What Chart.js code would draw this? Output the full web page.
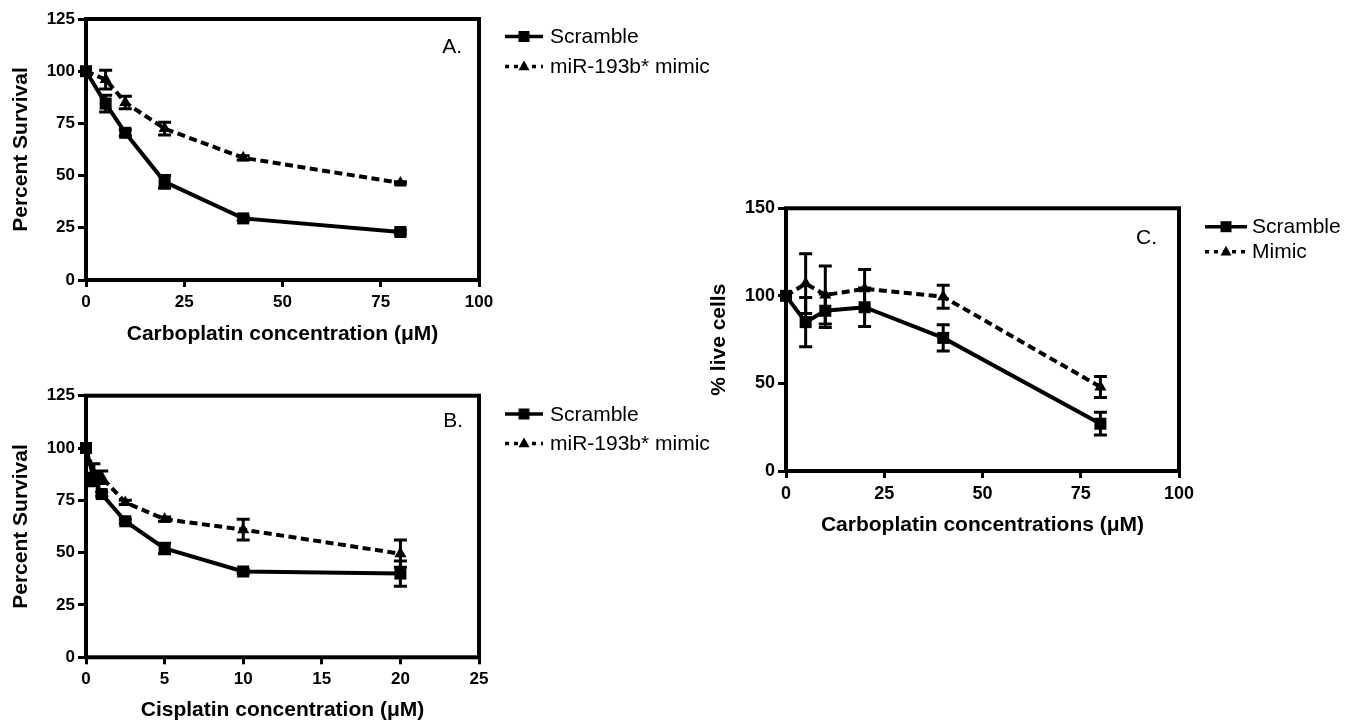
<!DOCTYPE html>
<html>
<head>
<meta charset="utf-8">
<script src="https://cdn.jsdelivr.net/npm/chart.js@4.4.1/dist/chart.umd.min.js"></script>
<style>
  body { margin: 0; background: #fff; width: 1356px; height: 726px; overflow: hidden; position: relative; }
  canvas { position: absolute; }
</style>
</head>
<body>
<canvas id="chartA" width="740" height="350" style="left:0;top:0"></canvas>
<canvas id="chartB" width="740" height="356" style="left:0;top:370px"></canvas>
<canvas id="chartC" width="656" height="380" style="left:700px;top:170px"></canvas>
<script>
// A. carboplatin, percent survival
const carboDose = [0, 5, 10, 20, 40, 80];
const carboScramble = [100, 84.5, 70.5, 47, 29.5, 23];
const carboScrambleErr = [0, 4, 1.5, 3, 1, 1];
const carboMimic = [100, 96, 85, 72.5, 58.5, 46.5];
const carboMimicErr = [0, 4.5, 3, 3, 1, 0.5];

// B. cisplatin, percent survival
const cisDose = [0, 0.5, 1, 2.5, 5, 10, 20];
const cisScramble = [100, 85, 78, 65, 52, 41, 40];
const cisScrambleErr = [0, 3, 1, 1, 2.5, 1, 6];
const cisMimic = [100, 88, 86, 74, 66, 61, 49.5];
const cisMimicErr = [0, 4.5, 3, 1, 1, 5, 6.5];

// C. carboplatin, % live cells
const liveDose = [0, 5, 10, 20, 40, 80];
const liveScramble = [100, 85, 91.5, 93.5, 76, 27];
const liveScrambleErr = [0, 14, 9.5, 11, 7.5, 6.5];
const liveMimic = [100, 107, 100.5, 104, 99.5, 48];
const liveMimicErr = [0, 17, 16.5, 11, 6.5, 6];

// tick labels
const carboTicks = [0, 25, 50, 75, 100];
const cisTicks = [0, 5, 10, 15, 20, 25];
const survivalTicks = [0, 25, 50, 75, 100, 125];
const liveTicks = [0, 50, 100, 150];

Chart.defaults.font.family = "'Liberation Sans', Arial, sans-serif";
Chart.defaults.color = '#000';

function drawMarker(c, style, x, y, r) {
  c.beginPath();
  if (style === 'rect') {
    c.rect(x - r, y - r, 2 * r, 2 * r);
  } else {
    c.moveTo(x, y - r * 1.1);
    c.lineTo(x + r, y + r * 0.7);
    c.lineTo(x - r, y + r * 0.7);
    c.closePath();
  }
  c.fill();
}

// box round the plot area
const frame = {
  id: 'frame',
  beforeDatasetsDraw(chart) {
    const a = chart.chartArea, c = chart.ctx;
    c.save();
    c.strokeStyle = '#000';
    c.lineWidth = 4;
    c.strokeRect(a.left, a.top, a.right - a.left, a.bottom - a.top);
    c.restore();
  }
};

// SEM bars
const errorBars = {
  id: 'errorBars',
  afterDatasetsDraw(chart) {
    const c = chart.ctx, xs = chart.scales.x, ys = chart.scales.y;
    const cap = 6.5;
    c.save();
    c.strokeStyle = '#000';
    c.lineWidth = 3;
    chart.data.datasets.forEach(ds => {
      ds.data.forEach((p, j) => {
        const e = ds.errors[j];
        if (!e) return;
        const x = xs.getPixelForValue(p.x);
        const y1 = ys.getPixelForValue(p.y + e);
        const y2 = ys.getPixelForValue(p.y - e);
        c.beginPath();
        c.moveTo(x, y1); c.lineTo(x, y2);
        c.moveTo(x - cap, y1); c.lineTo(x + cap, y1);
        c.moveTo(x - cap, y2); c.lineTo(x + cap, y2);
        c.stroke();
      });
    });
    c.restore();
  }
};

// legend at the right of the frame + panel letter
const sideLegend = {
  id: 'sideLegend',
  afterDraw(chart, args, opts) {
    const c = chart.ctx, a = chart.chartArea;
    c.save();
    c.fillStyle = '#000';
    c.strokeStyle = '#000';
    c.font = '21px ' + Chart.defaults.font.family;
    c.textBaseline = 'middle';
    chart.data.datasets.forEach((ds, i) => {
      const y = a.top + opts.top + i * opts.gap;
      const x0 = a.right + 26, x1 = x0 + opts.len;
      c.lineWidth = 3.5;
      c.setLineDash(ds.borderDash.length ? [4, 5] : []);
      c.beginPath();
      c.moveTo(x0, y); c.lineTo(x1, y);
      c.stroke();
      c.setLineDash([]);
      drawMarker(c, ds.pointStyle, (x0 + x1) / 2, y, 5.5);
      c.textAlign = 'left';
      c.fillText(ds.label, a.right + opts.textX, y + 1);
    });
    c.textAlign = 'right';
    c.fillText(opts.letter, a.right - opts.letterDx, a.top + opts.letterDy);
    c.restore();
  }
};

function panel(id, cfg) {
  let ctx = document.getElementById(id).getContext('2d');
  const W = ctx.canvas.width, H = ctx.canvas.height;
  const tickFont = { size: cfg.tickSize, weight: 'bold' };
  const titleFont = { size: 21, weight: 'bold' };
  const line = {
    showLine: true,
    tension: 0,
    borderColor: '#000',
    backgroundColor: '#000',
    borderWidth: 4,
    pointBorderWidth: 0,
    clip: false
  };
  return new Chart(ctx, {
    type: 'scatter',
    data: {
      datasets: [
        Object.assign({
          label: 'Scramble',
          data: cfg.dose.map((d, i) => ({ x: d, y: cfg.scramble[i] })),
          errors: cfg.scrambleErr,
          pointStyle: 'rect',
          pointRadius: 8.5,
          borderDash: []
        }, line),
        Object.assign({
          label: cfg.mimicLabel,
          data: cfg.dose.map((d, i) => ({ x: d, y: cfg.mimic[i] })),
          errors: cfg.mimicErr,
          pointStyle: 'triangle',
          pointRadius: 7,
          borderDash: [8, 4.5]
        }, line)
      ]
    },
    plugins: [frame, errorBars, sideLegend],
    options: {
      responsive: false,
      animation: false,
      events: [],
      layout: {
        padding: { left: 0, top: cfg.area.top, right: W - cfg.area.right, bottom: 0 }
      },
      plugins: {
        legend: { display: false },
        tooltip: { enabled: false },
        sideLegend: cfg.legend
      },
      scales: {
        x: {
          type: 'linear',
          min: cfg.xTicks[0],
          max: cfg.xTicks[cfg.xTicks.length - 1],
          afterBuildTicks: s => { s.ticks = cfg.xTicks.map(v => ({ value: v })); },
          afterFit: s => { s.height = H - cfg.area.bottom; },
          border: { display: false },
          grid: { drawOnChartArea: false, drawTicks: true, tickLength: 7, tickWidth: 3, tickColor: '#000' },
          ticks: { font: tickFont, padding: 5, maxRotation: 0 },
          title: { display: true, text: cfg.xTitle, font: titleFont, padding: { top: 0, bottom: cfg.xTitlePad } }
        },
        y: {
          type: 'linear',
          min: cfg.yTicks[0],
          max: cfg.yTicks[cfg.yTicks.length - 1],
          afterBuildTicks: s => { s.ticks = cfg.yTicks.map(v => ({ value: v })); },
          afterFit: s => { s.width = cfg.area.left; },
          border: { display: false },
          grid: { drawOnChartArea: false, drawTicks: true, tickLength: 8, tickWidth: 3, tickColor: '#000' },
          ticks: { font: tickFont, padding: 3 },
          title: { display: true, text: cfg.yTitle, font: titleFont, padding: { top: cfg.yTitlePad, bottom: 0 } }
        }
      }
    }
  });
}

panel('chartA', {
  dose: carboDose, scramble: carboScramble, scrambleErr: carboScrambleErr,
  mimic: carboMimic, mimicErr: carboMimicErr, mimicLabel: 'miR-193b* mimic',
  xTicks: carboTicks, yTicks: survivalTicks, tickSize: 17,
  xTitle: 'Carboplatin concentration (\u03bcM)', yTitle: 'Percent Survival',
  area: { left: 86, top: 19, right: 479, bottom: 280 },
  xTitlePad: 3, yTitlePad: 9,
  legend: { top: 17.5, gap: 30, len: 38, textX: 71, letter: 'A.', letterDx: 17, letterDy: 28 }
});

panel('chartB', {
  dose: cisDose, scramble: cisScramble, scrambleErr: cisScrambleErr,
  mimic: cisMimic, mimicErr: cisMimicErr, mimicLabel: 'miR-193b* mimic',
  xTicks: cisTicks, yTicks: survivalTicks, tickSize: 17,
  xTitle: 'Cisplatin concentration (\u03bcM)', yTitle: 'Percent Survival',
  area: { left: 86, top: 25.7, right: 479, bottom: 287.3 },
  xTitlePad: 3, yTitlePad: 9,
  legend: { top: 18.3, gap: 29.5, len: 38, textX: 71, letter: 'B.', letterDx: 16, letterDy: 26 }
});

panel('chartC', {
  dose: liveDose, scramble: liveScramble, scrambleErr: liveScrambleErr,
  mimic: liveMimic, mimicErr: liveMimicErr, mimicLabel: 'Mimic',
  xTicks: carboTicks, yTicks: liveTicks, tickSize: 18,
  xTitle: 'Carboplatin concentrations (\u03bcM)', yTitle: '% live cells',
  area: { left: 86, top: 38.3, right: 479, bottom: 301 },
  xTitlePad: 12, yTitlePad: 7,
  legend: { top: 18.4, gap: 25, len: 42, textX: 73, letter: 'C.', letterDx: 22, letterDy: 30 }
});
</script>
</body>
</html>
